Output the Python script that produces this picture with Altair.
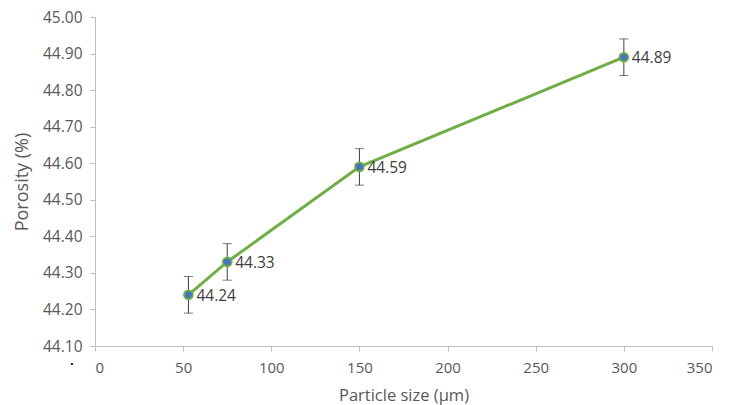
import altair as alt
import pandas as pd

sizes = [53, 75, 150, 300]
porosity = [44.24, 44.33, 44.59, 44.89]
errors = [0.05, 0.05, 0.05, 0.05]
labels = ["44.24", "44.33", "44.59", "44.89"]

df = pd.DataFrame({
    "size": sizes,
    "porosity": porosity,
    "lo": [p - e for p, e in zip(porosity, errors)],
    "hi": [p + e for p, e in zip(porosity, errors)],
    "label": labels,
})

FONT = "Open Sans"
xs = alt.Scale(domain=[0, 350], nice=False, zero=False)
ys = alt.Scale(domain=[44.10, 45.00], nice=False, zero=False)

xax = alt.Axis(values=[0, 50, 100, 150, 200, 250, 300, 350], grid=False,
               domainColor="#bfbfbf", tickColor="#bfbfbf", tickSize=5,
               labelColor="#595959", labelFontSize=15, labelFont=FONT, labelPadding=9,
               labelOverlap=False,
               title="Particle size (μm)", titleFont=FONT, titleFontSize=16.5,
               titleFontWeight="normal", titleColor="#595959", titlePadding=12)
yax = alt.Axis(values=[44.1, 44.2, 44.3, 44.4, 44.5, 44.6, 44.7, 44.8, 44.9, 45.0],
               format=".2f", grid=False,
               domainColor="#bfbfbf", tickColor="#bfbfbf", tickSize=5,
               labelColor="#595959", labelFontSize=15.5, labelFont=FONT, labelPadding=8,
               labelOverlap=False,
               title="Porosity (%)", titleFont=FONT, titleFontSize=18,
               titleFontWeight="normal", titleColor="#595959", titlePadding=11)

X = alt.X("size:Q", scale=xs, axis=xax)
def Y(field):
    return alt.Y(field, type="quantitative", scale=ys, axis=yax)

base = alt.Chart(df)

line = base.mark_line(color="#70ad47", strokeWidth=3).encode(x=X, y=Y("porosity"))
err = base.mark_rule(color="#404040", strokeWidth=1).encode(x=X, y=Y("lo"), y2="hi:Q")
cap_lo = base.mark_tick(color="#404040", orient="horizontal", size=9, thickness=1).encode(
    x=X, y=Y("lo"))
cap_hi = base.mark_tick(color="#404040", orient="horizontal", size=9, thickness=1).encode(
    x=X, y=Y("hi"))
pts = base.mark_point(filled=True, fill="#4472c4", stroke="#70ad47", strokeWidth=2,
                      size=75, opacity=1).encode(x=X, y=Y("porosity"))
txt = base.mark_text(align="left", baseline="middle", dx=8, dy=1, fontSize=15.5,
                     font=FONT, color="#404040").encode(x=X, y=Y("porosity"), text="label:N")
dot = alt.Chart(pd.DataFrame({"t": ["•"]})).mark_text(
    fontSize=8, color="#000000", align="center", baseline="middle").encode(
    x=alt.value(-23), y=alt.value(18 + 329), text="t:N"
)

chart = alt.layer(err, cap_lo, cap_hi, line, pts, txt, dot).properties(
    width=617, height=329,
    background="white",
    autosize=alt.AutoSizeParams(type="none"),
    padding={"left": 95, "top": 17, "right": 23, "bottom": 59},
).configure_view(strokeWidth=0, stroke=None)

chart.save("out.html", embed_options={"renderer": "svg", "actions": False})
